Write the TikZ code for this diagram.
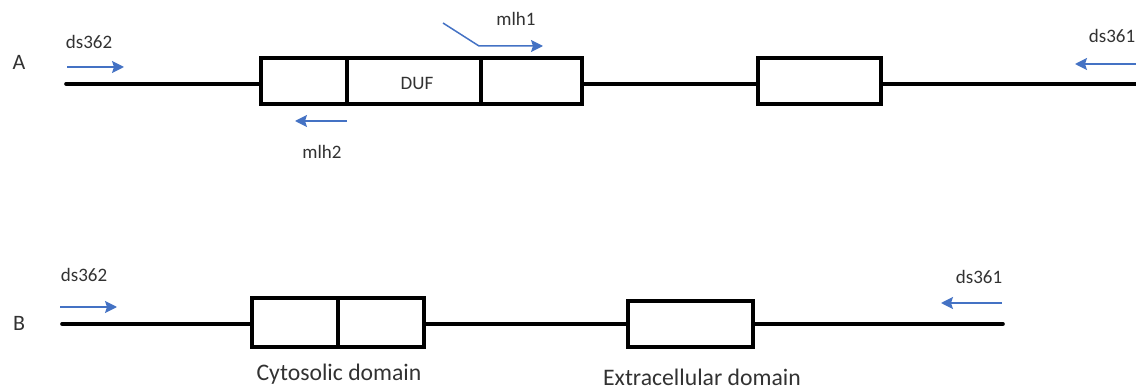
\documentclass[tikz,border=0pt]{standalone}
\usepackage{fontspec}
\setmainfont{Carlito}
\usetikzlibrary{arrows.meta}
\definecolor{primer}{RGB}{68,114,196}
\definecolor{txt}{RGB}{50,50,50}
\begin{document}
\begin{tikzpicture}[x=1pt,y=-1pt,
  cell/.style={draw=black,line width=3.6pt,rectangle,inner sep=0pt,outer sep=0pt,fill=white},
  dna/.style={line width=3.6pt,line cap=round},
  primerarrow/.style={draw=primer,line width=1.5pt,-{Stealth[length=12pt,width=12pt,inset=2pt]}},
  small/.style={font=\fontsize{19}{19}\selectfont,text=txt,inner sep=0pt},
  panel/.style={font=\fontsize{22}{22}\selectfont,text=txt,inner sep=0pt},
  big/.style={font=\fontsize{23.7}{24}\selectfont,text=txt,inner sep=0pt}]
\useasboundingbox (0,0) rectangle (1136,390);
% ---------- A ----------
\node[panel] (lA) at (19,62) {A};
\coordinate (aL) at (66,84);
\coordinate (aR) at (1140,84);
\node[cell,minimum width=86pt,minimum height=46pt] (a1) at (304,81) {};
\node[cell,minimum width=134pt,minimum height=46pt] (a2) at (414,81) {};
\node[cell,minimum width=101pt,minimum height=46pt] (a3) at (531.5,81) {};
\node[cell,minimum width=123pt,minimum height=46pt] (a4) at (819.5,81) {};
\node[small] (duf) at (417,83) {DUF};
\draw[dna] (aL) -- (a1.west|-aL);
\draw[dna] (a3.east|-aL) -- (a4.west|-aL);
\draw[dna] (a4.east|-aL) -- (aR);
\node[small] (dsA1) at (89,42) {ds362};
\coordinate (pA1s) at (67,67);
\coordinate (pA1e) at (124,67);
\draw[primerarrow] (pA1s) -- (pA1e);
\node[small] (dsA2) at (1112,36) {ds361};
\coordinate (pA2s) at (1140,64);
\coordinate (pA2e) at (1075,64);
\draw[primerarrow] (pA2s) -- (pA2e);
\node[small] (m1) at (516,19) {mlh1};
\coordinate (m1s) at (443,23);
\coordinate (m1b) at (479,46);
\coordinate (m1e) at (543,46);
\draw[primerarrow] (m1s) -- (m1b) -- (m1e);
\node[small] (m2) at (322,152) {mlh2};
\coordinate (m2s) at (347,121);
\coordinate (m2e) at (295,121);
\draw[primerarrow] (m2s) -- (m2e);
% ---------- B ----------
\node[panel] (lB) at (19,323) {B};
\coordinate (bL) at (62,324);
\coordinate (bR) at (1003,324);
\node[cell,minimum width=87pt,minimum height=49pt] (b1) at (295.5,322.5) {};
\node[cell,minimum width=86pt,minimum height=49pt] (b2) at (381,322.5) {};
\node[cell,minimum width=125pt,minimum height=46pt] (b3) at (690.5,324) {};
\draw[dna] (bL) -- (b1.west|-bL);
\draw[dna] (b2.east|-bL) -- (b3.west|-bL);
\draw[dna] (b3.east|-bL) -- (bR);
\node[small] (dsB1) at (84,275) {ds362};
\coordinate (pB1s) at (60,307);
\coordinate (pB1e) at (117,307);
\draw[primerarrow] (pB1s) -- (pB1e);
\node[small] (dsB2) at (979,277) {ds361};
\coordinate (pB2s) at (1002,303);
\coordinate (pB2e) at (941,303);
\draw[primerarrow] (pB2s) -- (pB2e);
\node[big] (cyto) at (339,374) {Cytosolic domain};
\node[big] (extra) at (702,377) {Extracellular domain};
\end{tikzpicture}
\end{document}
